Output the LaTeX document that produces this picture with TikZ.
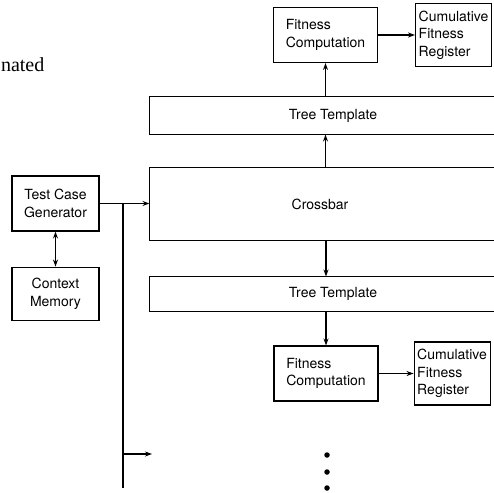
\documentclass[tikz,border=0pt]{standalone}
\usepackage{fontspec}
\setmainfont{TeX Gyre Heros}
\newfontfamily\serifface{Liberation Serif}
\usetikzlibrary{arrows.meta,positioning}

\begin{document}
\begin{tikzpicture}[
    x=1pt, y=-1pt,
    line width=1.1pt,
    every node/.style={font=\fontsize{14pt}{17.5pt}\selectfont},
    block/.style={rectangle, draw, align=center, minimum width=87pt, inner sep=2pt},
    fitbox/.style={rectangle, draw, align=left, minimum width=104pt, minimum height=55pt},
    regbox/.style={rectangle, draw, align=left, minimum width=76pt, minimum height=63pt, inner sep=3pt},
    bar/.style={rectangle, inner sep=0pt},
    arrow/.style={->, >={Stealth[length=7pt,width=5pt]}},
    dot/.style={circle, fill, inner sep=0pt, minimum size=5.5pt}
]
    \useasboundingbox (0,0) rectangle (494,492);
    \coordinate (edge) at (494,0);

    % end of the caption word
    \node[anchor=base west, inner sep=0pt, font=\serifface\fontsize{20pt}{24pt}\selectfont] (word) at (0.5,72) {nated};

    % Generator and its memory
    \node[block, minimum height=55pt] (tcg) at (55.5,203.5) {Test Case\\Generator};
    \node[block, minimum height=53pt, below=35pt of tcg] (ctx) {Context\\Memory};
    \draw[arrow, <->] (tcg) -- (ctx);

    % Crossbar and tree templates (open to the right)
    \node[bar, minimum width=340pt, minimum height=72pt] (xbar) at (320,204) {Crossbar};
    \node[bar, minimum width=366pt, minimum height=37pt] (tt1) at (333,115.5) {Tree Template};
    \node[bar, minimum width=366pt, minimum height=34pt] (tt2) at (333,294) {Tree Template};
    \foreach \b in {xbar,tt1,tt2}
        \draw (\b.north -| edge) -- (\b.north west) -- (\b.south west) -- (\b.south -| edge);

    % Fitness units
    \node[fitbox] (fit1) at (325.5,35) {Fitness\\Computation};
    \node[regbox, right=37pt of fit1] (reg1) {Cumulative\\Fitness\\Register};
    \node[fitbox] (fit2) at (326,373.5) {Fitness\\Computation};
    \node[regbox, right=35pt of fit2] (reg2) {Cumulative\\Fitness\\Register};
    \draw[arrow] (fit1) -- (reg1);
    \draw[arrow] (fit2) -- (reg2);

    % Vertical flow through the templates
    \draw[arrow] (xbar.north -| fit1.south) -- (tt1.south -| fit1.south);
    \draw[arrow] (tt1.north -| fit1.south) -- (fit1.south);
    \draw[arrow] (xbar.south -| fit2.north) -- (tt2.north -| fit2.north);
    \draw[arrow] (tt2.south -| fit2.north) -- (fit2.north);

    % Input bus
    \coordinate (busend) at (123,488);
    \coordinate (branch) at (123,454);
    \coordinate (next) at (152,454);
    \draw[arrow] (tcg.east) -- (tcg.east -| xbar.west);
    \draw (tcg.east -| busend) -- (busend);
    \draw[arrow] (branch) -- (next);

    % More units follow
    \foreach \i/\y in {1/455,2/472,3/488}
        \node[dot] (dot\i) at (327,\y) {};
\end{tikzpicture}
\end{document}
